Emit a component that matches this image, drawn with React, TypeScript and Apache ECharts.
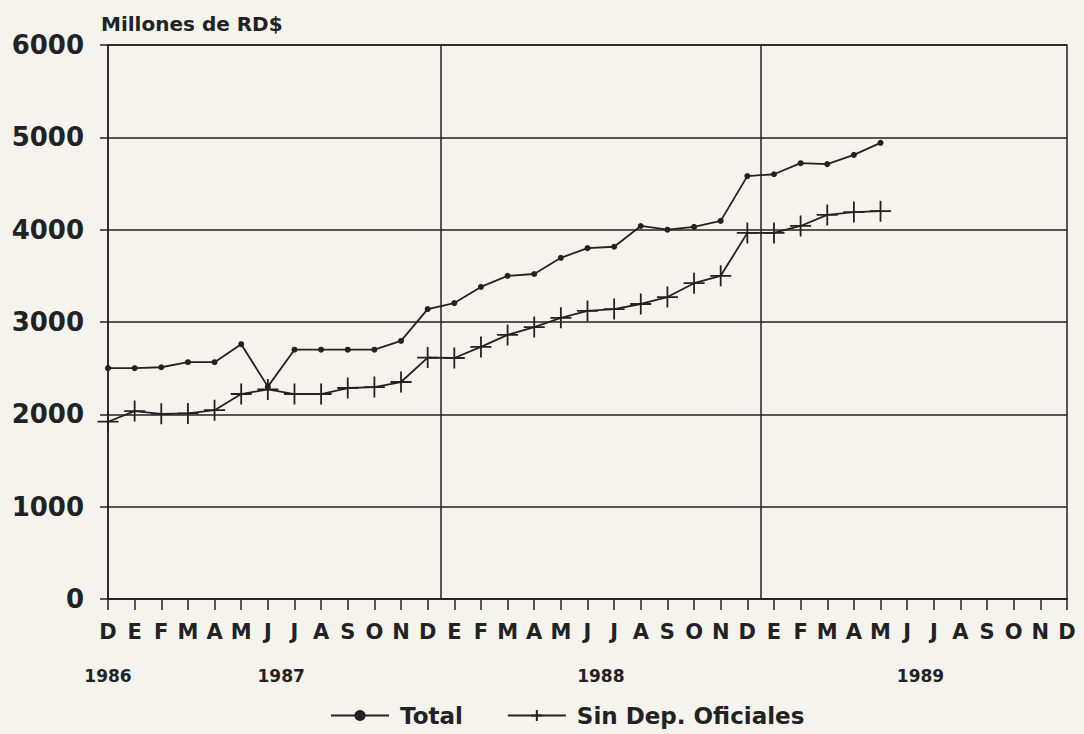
import React, { useEffect, useRef } from "react";
import * as echarts from "echarts";

const months: string[] = [
  "D",
  "E", "F", "M", "A", "M", "J", "J", "A", "S", "O", "N", "D",
  "E", "F", "M", "A", "M", "J", "J", "A", "S", "O", "N", "D",
  "E", "F", "M", "A", "M", "J", "J", "A", "S", "O", "N", "D",
];
const yearLabels: string[] = ["1986", "1987", "1988", "1989"];
const yearPositions: number[] = [0, 6.5, 18.5, 30.5];
const yearBoundaries: number[] = [12.5, 24.5];

const totalValues: number[] = [
  2500, 2500, 2510, 2565, 2565, 2760, 2300, 2700, 2700, 2700, 2700, 2795,
  3140, 3205, 3380, 3500, 3520, 3695, 3800, 3815, 4040, 4000, 4030, 4095,
  4580, 4600, 4720, 4710, 4810, 4940,
];
const sinDepValues: number[] = [
  1920, 2035, 2005, 2010, 2045, 2220, 2270, 2220, 2220, 2285, 2295, 2350,
  2615, 2610, 2730, 2860, 2945, 3045, 3120, 3140, 3195, 3270, 3420, 3500,
  3965, 3965, 4040, 4160, 4190, 4200,
];
const yTicks = { min: 0, max: 6000, interval: 1000 };

const INK = "#222";
const PAPER = "#f5f3ee";
const FONT = "DejaVu Sans";

export default function App() {
  const ref = useRef<HTMLDivElement>(null);
  useEffect(() => {
    document.body.style.margin = "0";
    document.body.style.background = PAPER;
    if (!ref.current) return;
    const chart = echarts.init(ref.current, null, { renderer: "svg" });
    const toPairs = (arr: number[]) => arr.map((v, i) => [i, v]);
    chart.setOption({
      animation: false,
      backgroundColor: PAPER,
      title: {
        text: "Millones de RD$",
        left: 96,
        top: 9,
        textStyle: { fontFamily: FONT, fontWeight: "bold", fontSize: 20, color: INK },
      },
      legend: {
        bottom: 2,
        left: 325,
        itemWidth: 58,
        itemHeight: 14,
        itemGap: 44,
        textStyle: {
          fontFamily: FONT,
          fontWeight: "bold",
          fontSize: 23,
          color: INK,
          padding: [0, 0, 0, 6],
        },
        data: ["Total", "Sin Dep. Oficiales"],
      },
      grid: {
        left: 108,
        right: 17,
        top: 45,
        bottom: 135,
        show: true,
        borderColor: INK,
        borderWidth: 1.5,
      },
      xAxis: [
        {
          type: "value",
          min: 0,
          max: months.length - 1,
          interval: 1,
          position: "bottom",
          axisLine: { lineStyle: { color: INK, width: 1.5 } },
          axisTick: { show: true, length: 11, lineStyle: { color: INK, width: 1.5 } },
          splitLine: { show: false },
          axisLabel: {
            margin: 22,
            fontFamily: FONT,
            fontWeight: "bold",
            fontSize: 21,
            color: INK,
            formatter: (v: number) => months[Math.round(v)] ?? "",
          },
        },
        {
          type: "value",
          min: 0,
          max: months.length - 1,
          interval: 0.5,
          position: "bottom",
          offset: 60,
          axisLine: { show: false },
          axisTick: { show: false },
          splitLine: { show: false },
          axisLabel: {
            fontFamily: FONT,
            fontWeight: "bold",
            fontSize: 17,
            color: INK,
            formatter: (v: number) => {
              const idx = yearPositions.indexOf(v);
              return idx >= 0 ? yearLabels[idx] : "";
            },
          },
        },
      ],
      yAxis: {
        type: "value",
        min: yTicks.min,
        max: yTicks.max,
        interval: yTicks.interval,
        axisLine: { show: true, lineStyle: { color: INK, width: 1.5 } },
        axisTick: { show: true, length: 8, lineStyle: { color: INK, width: 1.5 } },
        splitLine: { show: true, lineStyle: { color: INK, width: 1.5 } },
        axisLabel: {
          margin: 24,
          fontFamily: FONT,
          fontWeight: "bold",
          fontSize: 26,
          color: INK,
          formatter: (v: number) => String(v),
        },
      },
      series: [
        {
          name: "Total",
          type: "line",
          xAxisIndex: 0,
          data: toPairs(totalValues),
          symbol: "circle",
          symbolSize: 6,
          lineStyle: { color: INK, width: 1.8 },
          itemStyle: { color: INK },
          markLine: {
            silent: true,
            symbol: "none",
            label: { show: false },
            lineStyle: { color: INK, width: 1.5, type: "solid" },
            data: yearBoundaries.map((b) => ({ xAxis: b })),
          },
        },
        {
          name: "Sin Dep. Oficiales",
          type: "line",
          xAxisIndex: 0,
          data: toPairs(sinDepValues),
          symbol: "path://M10,0 L10,20 M0,10 L20,10",
          symbolSize: 21,
          lineStyle: { color: INK, width: 1.8 },
          itemStyle: { color: "none", borderColor: INK, borderWidth: 1.8 },
        },
      ],
    });
    return () => chart.dispose();
  }, []);
  return <div ref={ref} style={{ width: 1084, height: 734 }} />;
}
